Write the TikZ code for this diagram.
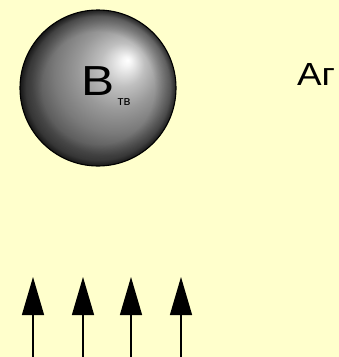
\documentclass[tikz,border=0pt]{standalone}
\usepackage{fontspec}
\setmainfont{Liberation Sans}
\usetikzlibrary{arrows.meta,fadings}
\definecolor{bgyellow}{RGB}{255,255,204}
\pgfdeclareradialshading{sphereshade}{\pgfpoint{9.5bp}{9bp}}{%
  color(0bp)=(white); color(1.5bp)=(white!96!black); color(7bp)=(black!25);
  color(13bp)=(black!40); color(19bp)=(black!52); color(25bp)=(black!68);
  color(40bp)=(black!80)}
\pgfdeclareradialshading{rimshadeT}{\pgfpointorigin}{%
  color(0bp)=(pgftransparent!100); color(18bp)=(pgftransparent!100);
  color(23bp)=(pgftransparent!70); color(25bp)=(pgftransparent!30)}
\pgfdeclarefading{rimfade}{\pgfuseshading{rimshadeT}}
\tikzset{
  uparrow/.style={line width=1.4pt, -{Triangle[width=22pt,length=38pt]}},
  lbl/.style={inner sep=0pt, text=black}
}
\begin{document}
\begin{tikzpicture}[x=1pt,y=-1pt]
\fill[bgyellow] (0,0) rectangle (339,357);
\useasboundingbox (0,0) rectangle (339,357);
% sphere
\shade[shading=sphereshade] (98,88) circle (78);
\fill[black, path fading=rimfade] (98,88) circle (78);
\draw[black, line width=1.1pt] (98,88) circle (78);
\node[lbl, anchor=base west, font=\fontsize{42}{42}\selectfont] (B) at (81,95) {\scalebox{1.18}[1]{В}};
\node[lbl, anchor=base west, font=\fontsize{13}{13}\selectfont] (tv) at (117.5,105) {тв};
\node[lbl, anchor=base west, font=\fontsize{32}{32}\selectfont] (Ag) at (297,85) {\scalebox{1.15}[1]{Аг}};
% arrows
\foreach \i/\x in {1/33,2/83,3/131,4/181}{
  \coordinate (s\i) at (\x,357);
  \coordinate (t\i) at (\x,277);
  \draw[uparrow] (s\i) -- (t\i);
}
\end{tikzpicture}
\end{document}
